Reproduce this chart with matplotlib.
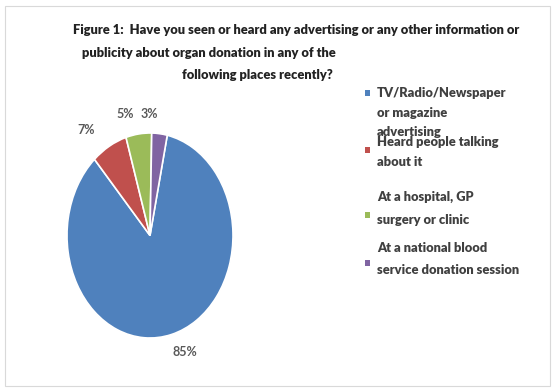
import matplotlib
matplotlib.use("Agg")
import matplotlib.pyplot as plt
from matplotlib.patches import Rectangle

categories = ["TV/Radio/Newspaper or magazine advertising", "Heard people talking about it",
              "At a hospital, GP surgery or clinic", "At a national blood service donation session"]
values = [85, 7, 5, 3]
pct_labels = ["85%", "7%", "5%", "3%"]
colors = ["#4F81BD", "#C0504D", "#9BBB59", "#8064A2"]
legend_lines = [["TV/Radio/Newspaper", "or magazine", "advertising"],
                ["Heard people talking", "about it"],
                ["At a hospital, GP", "surgery or clinic"],
                ["At a national blood", "service donation session"]]
title_lines = ["Figure 1:  Have you seen or heard any advertising or any other information or",
               "publicity about organ donation in any of the",
               "following places recently?"]

W, H = 560, 390
fig = plt.figure(figsize=(W / 100, H / 100), dpi=100)
plt.rcParams['font.family'] = ['Lato', 'DejaVu Sans']

def fx(px):
    return px / W

def fy(py):
    return 1 - py / H

# chart border
fig.add_artist(Rectangle((fx(5), fy(386)), fx(550) - fx(5), fy(6) - fy(386),
                         transform=fig.transFigure, fill=False, edgecolor="#d9d9d9", lw=0.8))

# title
title_pos = [(73, 30), (82, 53), (182, 75)]
for (x, y), t in zip(title_pos, title_lines):
    fig.text(fx(x), fy(y), t, ha="left", va="center", fontsize=9.3, fontweight="heavy", color="#222222")

# pie (elliptical)
cx, cy, a, b = 150, 235.5, 83, 102.5
ax = fig.add_axes([fx(cx - a), fy(cy + b), 2 * a / W, 2 * b / H])
ax.pie(values, colors=colors, startangle=78, counterclock=False,
       wedgeprops=dict(edgecolor="white", linewidth=1.2))
ax.set_aspect("auto")
ax.set_xlim(-1, 1)
ax.set_ylim(-1, 1)
ax.axis("off")

# data labels
label_pos = [(185, 352), (86.5, 130), (125, 114), (149, 114)]
for (x, y), t in zip(label_pos, pct_labels):
    fig.text(fx(x), fy(y), t, ha="center", va="center", fontsize=9, fontweight="bold", color="#595959")

# legend
marker_y = [93, 150, 215, 263]
line_y = [[93, 113, 132], [142, 162], [197, 220], [248, 270]]
for c, my, lines, ys in zip(colors, marker_y, legend_lines, line_y):
    s = 5.5
    fig.add_artist(Rectangle((fx(367.5 - s / 2), fy(my + s / 2)), s / W, s / H,
                             transform=fig.transFigure, facecolor=c, edgecolor="none"))
    for t, y in zip(lines, ys):
        fig.text(fx(377), fy(y), t, ha="left", va="center", fontsize=9.3,
                 fontweight="heavy", color="#404040")

fig.savefig("out.png", dpi=100, facecolor="white")
